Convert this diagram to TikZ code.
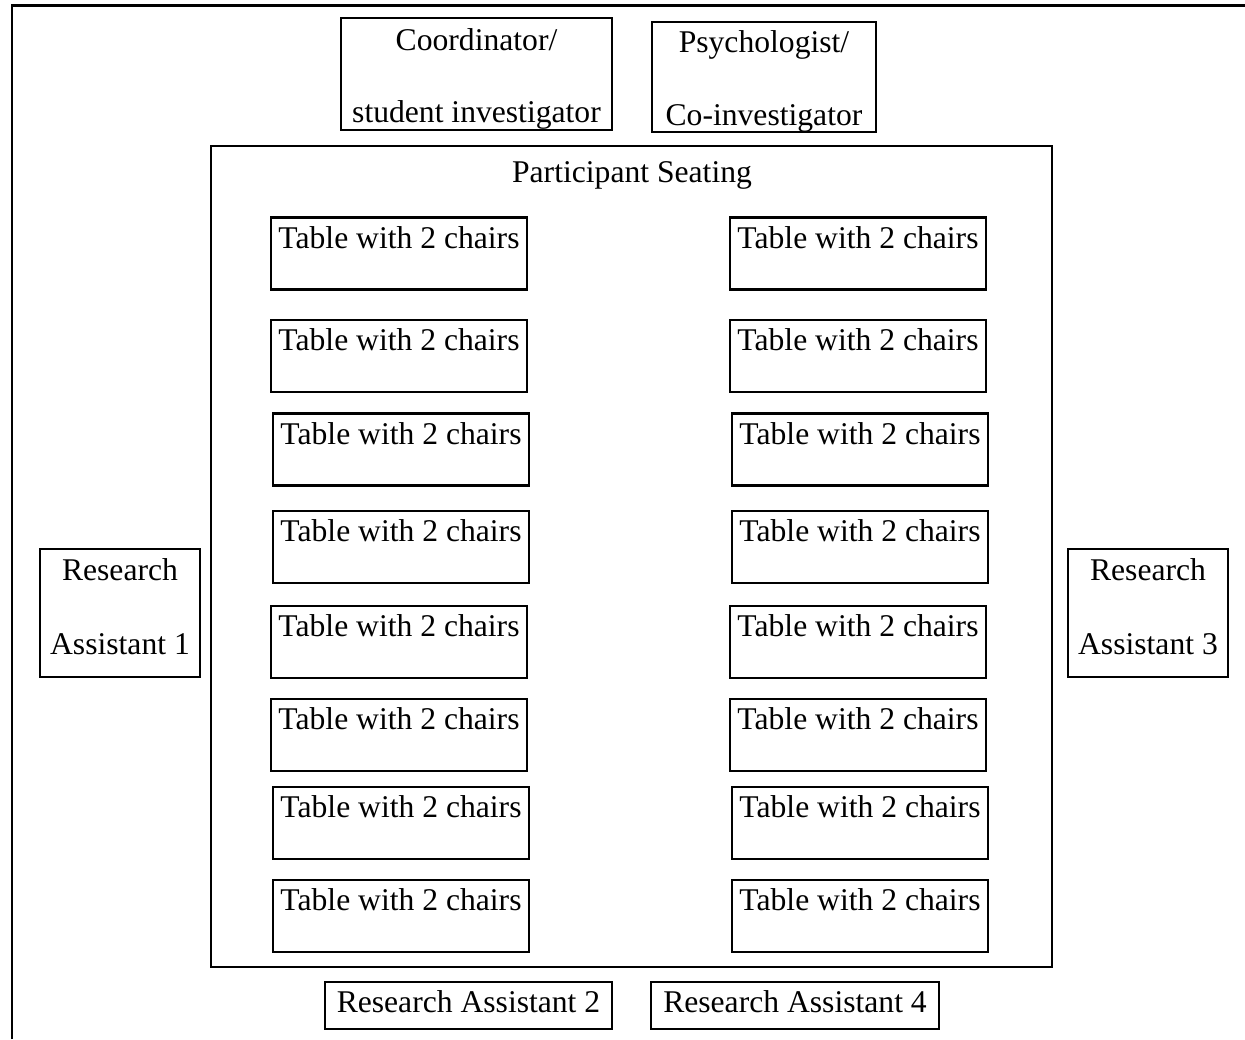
\documentclass[tikz,border=0pt]{standalone}
\usepackage{fontspec}
\setmainfont{Liberation Serif}
\usetikzlibrary{positioning}
\tikzset{
  sroom/.style={line width=1.5pt},
  sbox/.style={draw,line width=1.3pt,inner sep=0pt},
  stable/.style={sbox,minimum width=5.12cm,text height=0.61cm,text depth=0.83cm,font=\fontsize{18}{21.6}\selectfont},
  stext/.style={inner sep=0pt,anchor=base,font=\fontsize{18}{21.6}\selectfont},
}

\begin{document}
\begin{tikzpicture}[x=0.02cm,y=-0.02cm]
\useasboundingbox (0,0) rectangle (1245,1039);
%% one unit = one pixel of the room plan; walls open to right and bottom
\coordinate (wallA) at (12,1039);
\coordinate (wallB) at (12,5.5);
\coordinate (wallC) at (1245,5.5);
\draw[sroom] (wallA) -- (wallB) -- (wallC);
% ---- staff at the top
\node[sbox,minimum width=5.42cm,minimum height=2.24cm] (coord) at (476.5,74) {};
\node[stext] (coordA) at (476.5,50) {Coordinator/};
\node[stext] (coordB) at (476.5,122) {student investigator};
\node[sbox,minimum width=4.48cm,minimum height=2.2cm] (psych) at (764,77) {};
\node[stext] (psychA) at (764,52) {Psychologist/};
\node[stext] (psychB) at (764,125) {Co-investigator};
% ---- participant seating: two columns of eight tables
\node[sbox,minimum width=16.82cm,minimum height=16.42cm] (seat) at (631.5,556.5) {};
\node[stext] (seatT) at (632,182) {Participant Seating};
\foreach \r/\yc/\dx in {1/253.5/0,2/356/0,3/449.5/2,4/547/2,5/642/0,6/735/0,7/823/2,8/916/2}{
  \node[stable] (tL\r) at (399+\dx,\yc) {Table with 2 chairs};
  \node[stable] (tR\r) at (858+\dx,\yc) {Table with 2 chairs};}
% ---- research assistants round the seating
\node[sbox,minimum width=3.2cm,minimum height=2.56cm] (ra1) at (120,613) {};
\node[stext] (ra1A) at (120,580) {Research};
\node[stext] (ra1B) at (120,654) {Assistant 1};
\node[sbox,minimum width=3.2cm,minimum height=2.56cm] (ra3) at (1148,613) {};
\node[stext] (ra3A) at (1148,580) {Research};
\node[stext] (ra3B) at (1148,654) {Assistant 3};
\node[sbox,minimum width=5.74cm,minimum height=0.94cm] (ra2) at (468.5,1005.5) {};
\node[stext] (ra2A) at (468.5,1012) {Research Assistant 2};
\node[sbox,minimum width=5.76cm,minimum height=0.94cm] (ra4) at (795,1005.5) {};
\node[stext] (ra4A) at (795,1012) {Research Assistant 4};
\end{tikzpicture}
\end{document}
